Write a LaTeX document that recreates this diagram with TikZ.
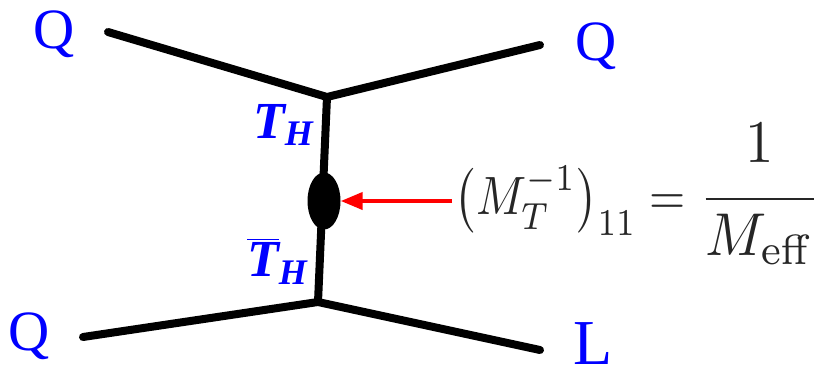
\documentclass[tikz,border=0pt]{standalone}
\usepackage{amsmath}
\usepackage[no-math]{fontspec}
\setmainfont{Liberation Serif}
\usetikzlibrary{positioning,arrows.meta,calc,shapes.geometric}
\tikzset{
  leg/.style={line width=8pt,line cap=round,line join=round},
  qlbl/.style={text=blue,font=\rmfamily\fontsize{57}{60}\selectfont,inner sep=0pt},
  thlbl/.style={text=blue,font=\rmfamily\fontsize{52}{56}\selectfont\bfseries\itshape,inner sep=0pt},
  blob/.style={ellipse,fill=black,minimum width=33pt,minimum height=57pt,inner sep=0pt},
  redarr/.style={-{Triangle[length=22pt,width=17pt]},draw=red,line width=4pt},
  mlbl/.style={font=\normalsize,xscale=4.65,yscale=5.4,text=black!85,inner sep=0.4pt},
}
\newcommand{\hsub}{\fontsize{36}{40}\selectfont H}
\begin{document}
\begin{tikzpicture}[x=1pt,y=-1pt]
  \useasboundingbox (0,0) rectangle (819,373);
  % vertices and free ends
  \coordinate (vt) at (327,97);
  \coordinate (vb) at (318,302);
  \coordinate (tl) at (108,32);
  \coordinate (tr) at (540,45);
  \coordinate (bl) at (83,337);
  \coordinate (br) at (540,350);
  \draw[leg] (tl) -- (vt) -- (tr);
  \draw[leg] (bl) -- (vb) -- (br);
  \draw[leg] (vt) -- (vb);
  \node[blob] (mix) at (324,201) {};
  % labels
  \node[qlbl] (q1) at (54,34) {Q};
  \node[qlbl] (q2) at (596,46) {Q};
  \node[qlbl] (q3) at (29,336) {Q};
  \node[qlbl,font=\rmfamily\fontsize{64}{68}\selectfont] (l1) at (593,344) {L};
  \node[thlbl] (th) at (283,125) {T\raisebox{-0.3ex}{\hsub}};
  \node[thlbl] (thb) at (277,261) {$\overline{\hbox{T}}$\raisebox{-0.3ex}{\hsub}};
  % mass insertion
  \node[mlbl,anchor=base west] (frm) at (452,214)
    {$\bigl(M_T^{-1}\bigr)_{11}=\scalebox{1.22}[1.12]{$\dfrac{\raisebox{1.8pt}{$1$}}{M_{\mathrm{eff}}}$}$};
  \draw[redarr] (mix.east -| frm.west) -- (mix.east);
\end{tikzpicture}
\end{document}
